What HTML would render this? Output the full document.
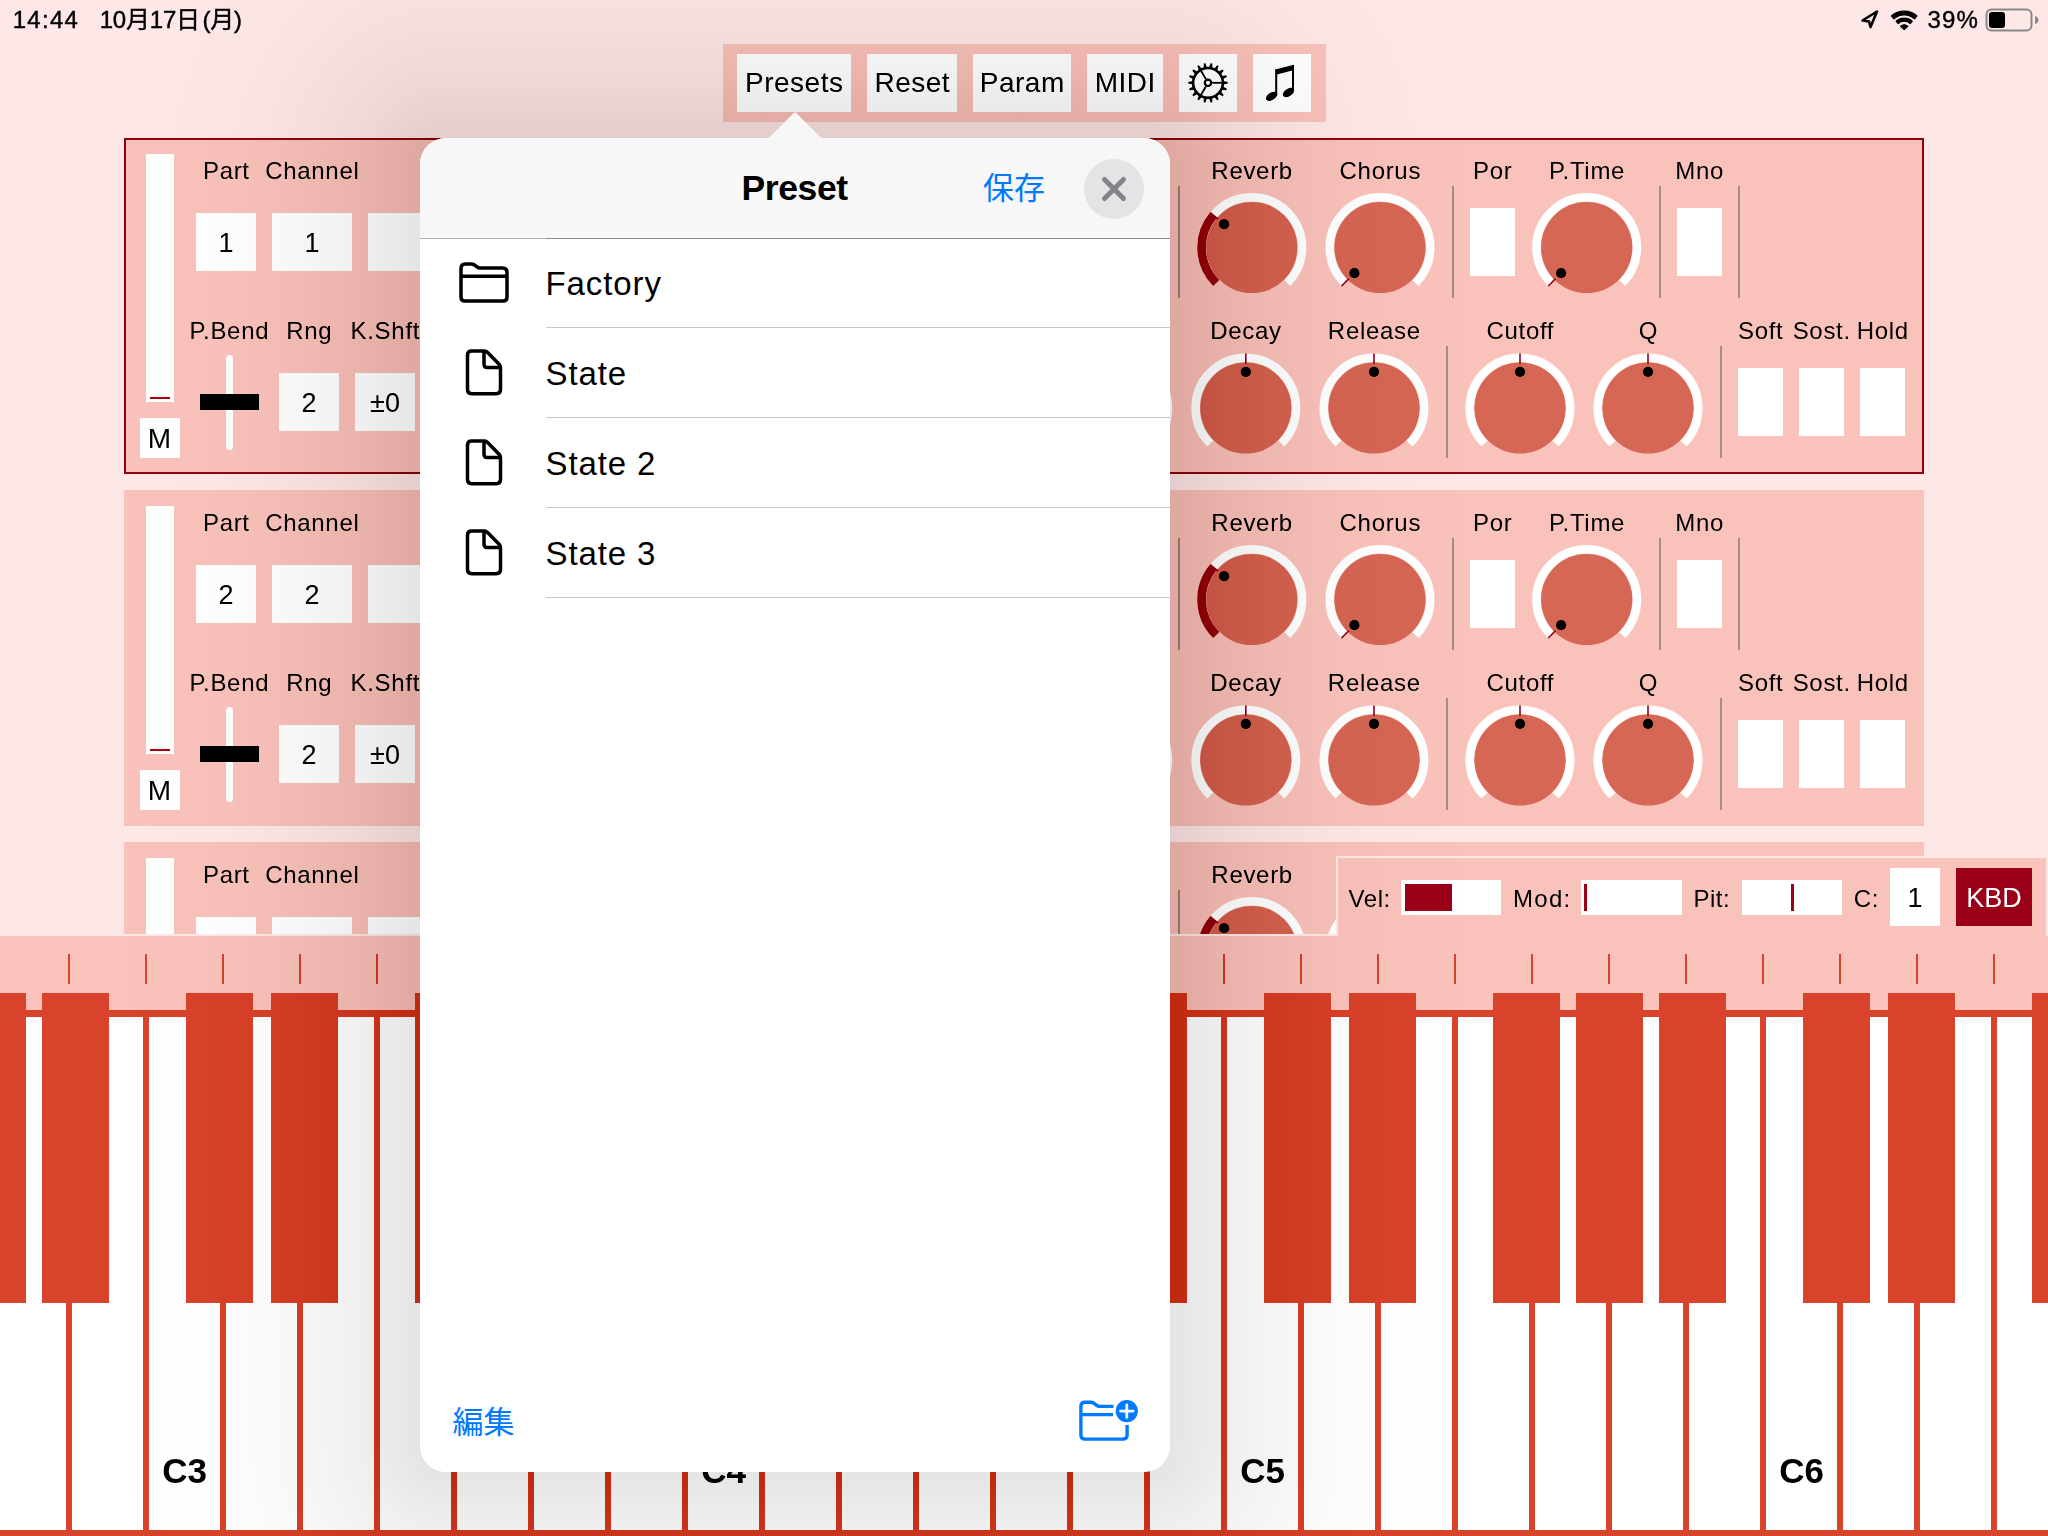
<!DOCTYPE html><html><head><meta charset="utf-8"><title>Preset</title><style>
html,body{margin:0;padding:0;width:2048px;height:1536px;overflow:hidden;background:#fde8e7;font-family:"Liberation Sans", "Noto Sans CJK JP", sans-serif;}
*{box-sizing:border-box;}
</style></head><body>
<div style="position:absolute;left:0;top:0;width:2048px;height:1536px;filter:invert(1);isolation:isolate;">
<div style="position:absolute;left:0;top:0;width:2048px;height:1536px;filter:invert(1);background:#fde8e7;">
<div style="position:absolute;left:0;top:0;width:2048px;height:934px;overflow:hidden;">
<div style="position:absolute;left:124px;top:138px;width:1800px;height:336px;background:#f9c3bc;box-sizing:border-box;border:2px solid #940010;"></div><div style="position:absolute;left:146px;top:154px;width:28px;height:248px;background:#fff;"></div><div style="position:absolute;left:150px;top:397px;width:20px;height:2px;background:#a00018;"></div><div style="position:absolute;left:140px;top:418px;width:40px;height:40px;background:#fff;"></div><div style="position:absolute;left:-140.5px;top:448px;width:600px;height:0;text-align:center;font-size:28px;color:#000;font-weight:normal;"><span style="position:relative;top:-25.34px;line-height:1;white-space:nowrap">M</span></div><div style="position:absolute;left:-74px;top:179px;width:600px;height:0;text-align:center;text-indent:0.7px;font-size:24px;color:#000;font-weight:normal;letter-spacing:0.7px;"><span style="position:relative;top:-21.72px;line-height:1;white-space:nowrap">Part</span></div><div style="position:absolute;left:12px;top:179px;width:600px;height:0;text-align:center;text-indent:0.7px;font-size:24px;color:#000;font-weight:normal;letter-spacing:0.7px;"><span style="position:relative;top:-21.72px;line-height:1;white-space:nowrap">Channel</span></div><div style="position:absolute;left:196px;top:213px;width:60px;height:58px;background:#fff;"></div><div style="position:absolute;left:-74px;top:252px;width:600px;height:0;text-align:center;font-size:27px;color:#000;font-weight:normal;"><span style="position:relative;top:-24.44px;line-height:1;white-space:nowrap">1</span></div><div style="position:absolute;left:272px;top:213px;width:80px;height:58px;background:#fff;"></div><div style="position:absolute;left:12px;top:252px;width:600px;height:0;text-align:center;font-size:27px;color:#000;font-weight:normal;"><span style="position:relative;top:-24.44px;line-height:1;white-space:nowrap">1</span></div><div style="position:absolute;left:368px;top:213px;width:80px;height:58px;background:#fff;"></div><div style="position:absolute;left:-71px;top:338.5px;width:600px;height:0;text-align:center;text-indent:0.7px;font-size:24px;color:#000;font-weight:normal;letter-spacing:0.7px;"><span style="position:relative;top:-21.72px;line-height:1;white-space:nowrap">P.Bend</span></div><div style="position:absolute;left:9px;top:338.5px;width:600px;height:0;text-align:center;text-indent:0.7px;font-size:24px;color:#000;font-weight:normal;letter-spacing:0.7px;"><span style="position:relative;top:-21.72px;line-height:1;white-space:nowrap">Rng</span></div><div style="position:absolute;left:85px;top:338.5px;width:600px;height:0;text-align:center;text-indent:0.7px;font-size:24px;color:#000;font-weight:normal;letter-spacing:0.7px;"><span style="position:relative;top:-21.72px;line-height:1;white-space:nowrap">K.Shft</span></div><div style="position:absolute;left:225.6px;top:354.5px;width:7.7px;height:95.3px;background:#fff;border-radius:4px;"></div><div style="position:absolute;left:200px;top:394px;width:59px;height:16px;background:#000;"></div><div style="position:absolute;left:279px;top:373px;width:60px;height:58px;background:#fff;"></div><div style="position:absolute;left:9px;top:412px;width:600px;height:0;text-align:center;font-size:27px;color:#000;font-weight:normal;"><span style="position:relative;top:-24.44px;line-height:1;white-space:nowrap">2</span></div><div style="position:absolute;left:355px;top:373px;width:60px;height:58px;background:#fff;"></div><div style="position:absolute;left:85px;top:412px;width:600px;height:0;text-align:center;font-size:27px;color:#000;font-weight:normal;"><span style="position:relative;top:-24.44px;line-height:1;white-space:nowrap">&plusmn;0</span></div><div style="position:absolute;left:951.8px;top:178.5px;width:600px;height:0;text-align:center;text-indent:0.7px;font-size:24px;color:#000;font-weight:normal;letter-spacing:0.7px;"><span style="position:relative;top:-21.72px;line-height:1;white-space:nowrap">Reverb</span></div><div style="position:absolute;left:1080px;top:178.5px;width:600px;height:0;text-align:center;text-indent:0.7px;font-size:24px;color:#000;font-weight:normal;letter-spacing:0.7px;"><span style="position:relative;top:-21.72px;line-height:1;white-space:nowrap">Chorus</span></div><div style="position:absolute;left:1192.5px;top:178.5px;width:600px;height:0;text-align:center;text-indent:0.7px;font-size:24px;color:#000;font-weight:normal;letter-spacing:0.7px;"><span style="position:relative;top:-21.72px;line-height:1;white-space:nowrap">Por</span></div><div style="position:absolute;left:1286.7px;top:178.5px;width:600px;height:0;text-align:center;text-indent:0.7px;font-size:24px;color:#000;font-weight:normal;letter-spacing:0.7px;"><span style="position:relative;top:-21.72px;line-height:1;white-space:nowrap">P.Time</span></div><div style="position:absolute;left:1399.4px;top:178.5px;width:600px;height:0;text-align:center;text-indent:0.7px;font-size:24px;color:#000;font-weight:normal;letter-spacing:0.7px;"><span style="position:relative;top:-21.72px;line-height:1;white-space:nowrap">Mno</span></div><div style="position:absolute;left:945.5999999999999px;top:338.5px;width:600px;height:0;text-align:center;text-indent:0.7px;font-size:24px;color:#000;font-weight:normal;letter-spacing:0.7px;"><span style="position:relative;top:-21.72px;line-height:1;white-space:nowrap">Decay</span></div><div style="position:absolute;left:1074px;top:338.5px;width:600px;height:0;text-align:center;text-indent:0.7px;font-size:24px;color:#000;font-weight:normal;letter-spacing:0.7px;"><span style="position:relative;top:-21.72px;line-height:1;white-space:nowrap">Release</span></div><div style="position:absolute;left:1220px;top:338.5px;width:600px;height:0;text-align:center;text-indent:0.7px;font-size:24px;color:#000;font-weight:normal;letter-spacing:0.7px;"><span style="position:relative;top:-21.72px;line-height:1;white-space:nowrap">Cutoff</span></div><div style="position:absolute;left:1348px;top:338.5px;width:600px;height:0;text-align:center;text-indent:0.7px;font-size:24px;color:#000;font-weight:normal;letter-spacing:0.7px;"><span style="position:relative;top:-21.72px;line-height:1;white-space:nowrap">Q</span></div><div style="position:absolute;left:1460.4px;top:338.5px;width:600px;height:0;text-align:center;text-indent:0.7px;font-size:24px;color:#000;font-weight:normal;letter-spacing:0.7px;"><span style="position:relative;top:-21.72px;line-height:1;white-space:nowrap">Soft</span></div><div style="position:absolute;left:1521.4px;top:338.5px;width:600px;height:0;text-align:center;text-indent:0.7px;font-size:24px;color:#000;font-weight:normal;letter-spacing:0.7px;"><span style="position:relative;top:-21.72px;line-height:1;white-space:nowrap">Sost.</span></div><div style="position:absolute;left:1582.4px;top:338.5px;width:600px;height:0;text-align:center;text-indent:0.7px;font-size:24px;color:#000;font-weight:normal;letter-spacing:0.7px;"><span style="position:relative;top:-21.72px;line-height:1;white-space:nowrap">Hold</span></div><div style="position:absolute;left:1178px;top:186px;width:2px;height:112px;background:#a88a86;"></div><div style="position:absolute;left:1452px;top:186px;width:2px;height:112px;background:#a88a86;"></div><div style="position:absolute;left:1659px;top:186px;width:2px;height:112px;background:#a88a86;"></div><div style="position:absolute;left:1738px;top:186px;width:2px;height:112px;background:#a88a86;"></div><div style="position:absolute;left:1446px;top:346px;width:2px;height:112px;background:#a88a86;"></div><div style="position:absolute;left:1720px;top:346px;width:2px;height:112px;background:#a88a86;"></div><div style="position:absolute;left:1470px;top:208px;width:45px;height:68px;background:#fff;"></div><div style="position:absolute;left:1677px;top:208px;width:45px;height:68px;background:#fff;"></div><div style="position:absolute;left:1738px;top:368px;width:45px;height:68px;background:#fff;"></div><div style="position:absolute;left:1799px;top:368px;width:45px;height:68px;background:#fff;"></div><div style="position:absolute;left:1860px;top:368px;width:45px;height:68px;background:#fff;"></div>
<svg style="position:absolute;left:0;top:0" width="2048" height="1536" viewBox="0 0 2048 1536"><path d="M1216.30,283.00 A50.2,50.2 0 1 1 1287.30,283.00" fill="none" stroke="#fff" stroke-width="8.6"/><path d="M1216.30,283.00 A50.2,50.2 0 0 1 1213.34,215.23" fill="none" stroke="#9a0018" stroke-width="8.6"/><circle cx="1251.8" cy="247.5" r="45.6" fill="#d66755"/><line x1="1218.09" y1="219.22" x2="1210.13" y2="212.53" stroke="#9a0018" stroke-width="1.6"/><circle cx="1224.07" cy="224.23" r="5.1" fill="#000"/><path d="M1344.50,283.00 A50.2,50.2 0 1 1 1415.50,283.00" fill="none" stroke="#fff" stroke-width="8.6"/><circle cx="1380" cy="247.5" r="45.6" fill="#d66755"/><line x1="1348.89" y1="278.61" x2="1341.53" y2="285.97" stroke="#9a0018" stroke-width="1.6"/><circle cx="1354.40" cy="273.10" r="5.1" fill="#000"/><path d="M1551.20,283.00 A50.2,50.2 0 1 1 1622.20,283.00" fill="none" stroke="#fff" stroke-width="8.6"/><circle cx="1586.7" cy="247.5" r="45.6" fill="#d66755"/><line x1="1555.59" y1="278.61" x2="1548.23" y2="285.97" stroke="#9a0018" stroke-width="1.6"/><circle cx="1561.10" cy="273.10" r="5.1" fill="#000"/><path d="M1082.30,443.50 A50.2,50.2 0 1 1 1153.30,443.50" fill="none" stroke="#fff" stroke-width="8.6"/><circle cx="1117.8" cy="408" r="45.6" fill="#d66755"/><line x1="1117.80" y1="364.00" x2="1117.80" y2="353.60" stroke="#9a0018" stroke-width="1.6"/><circle cx="1117.80" cy="371.80" r="5.1" fill="#000"/><path d="M1210.30,443.50 A50.2,50.2 0 1 1 1281.30,443.50" fill="none" stroke="#fff" stroke-width="8.6"/><circle cx="1245.8" cy="408" r="45.6" fill="#d66755"/><line x1="1245.80" y1="364.00" x2="1245.80" y2="353.60" stroke="#9a0018" stroke-width="1.6"/><circle cx="1245.80" cy="371.80" r="5.1" fill="#000"/><path d="M1338.50,443.50 A50.2,50.2 0 1 1 1409.50,443.50" fill="none" stroke="#fff" stroke-width="8.6"/><circle cx="1374" cy="408" r="45.6" fill="#d66755"/><line x1="1374.00" y1="364.00" x2="1374.00" y2="353.60" stroke="#9a0018" stroke-width="1.6"/><circle cx="1374.00" cy="371.80" r="5.1" fill="#000"/><path d="M1484.50,443.50 A50.2,50.2 0 1 1 1555.50,443.50" fill="none" stroke="#fff" stroke-width="8.6"/><circle cx="1520" cy="408" r="45.6" fill="#d66755"/><line x1="1520.00" y1="364.00" x2="1520.00" y2="353.60" stroke="#9a0018" stroke-width="1.6"/><circle cx="1520.00" cy="371.80" r="5.1" fill="#000"/><path d="M1612.50,443.50 A50.2,50.2 0 1 1 1683.50,443.50" fill="none" stroke="#fff" stroke-width="8.6"/><circle cx="1648" cy="408" r="45.6" fill="#d66755"/><line x1="1648.00" y1="364.00" x2="1648.00" y2="353.60" stroke="#9a0018" stroke-width="1.6"/><circle cx="1648.00" cy="371.80" r="5.1" fill="#000"/></svg>
<div style="position:absolute;left:124px;top:490px;width:1800px;height:336px;background:#f9c3bc;box-sizing:border-box;"></div><div style="position:absolute;left:146px;top:506px;width:28px;height:248px;background:#fff;"></div><div style="position:absolute;left:150px;top:749px;width:20px;height:2px;background:#a00018;"></div><div style="position:absolute;left:140px;top:770px;width:40px;height:40px;background:#fff;"></div><div style="position:absolute;left:-140.5px;top:800px;width:600px;height:0;text-align:center;font-size:28px;color:#000;font-weight:normal;"><span style="position:relative;top:-25.34px;line-height:1;white-space:nowrap">M</span></div><div style="position:absolute;left:-74px;top:531px;width:600px;height:0;text-align:center;text-indent:0.7px;font-size:24px;color:#000;font-weight:normal;letter-spacing:0.7px;"><span style="position:relative;top:-21.72px;line-height:1;white-space:nowrap">Part</span></div><div style="position:absolute;left:12px;top:531px;width:600px;height:0;text-align:center;text-indent:0.7px;font-size:24px;color:#000;font-weight:normal;letter-spacing:0.7px;"><span style="position:relative;top:-21.72px;line-height:1;white-space:nowrap">Channel</span></div><div style="position:absolute;left:196px;top:565px;width:60px;height:58px;background:#fff;"></div><div style="position:absolute;left:-74px;top:604px;width:600px;height:0;text-align:center;font-size:27px;color:#000;font-weight:normal;"><span style="position:relative;top:-24.44px;line-height:1;white-space:nowrap">2</span></div><div style="position:absolute;left:272px;top:565px;width:80px;height:58px;background:#fff;"></div><div style="position:absolute;left:12px;top:604px;width:600px;height:0;text-align:center;font-size:27px;color:#000;font-weight:normal;"><span style="position:relative;top:-24.44px;line-height:1;white-space:nowrap">2</span></div><div style="position:absolute;left:368px;top:565px;width:80px;height:58px;background:#fff;"></div><div style="position:absolute;left:-71px;top:690.5px;width:600px;height:0;text-align:center;text-indent:0.7px;font-size:24px;color:#000;font-weight:normal;letter-spacing:0.7px;"><span style="position:relative;top:-21.72px;line-height:1;white-space:nowrap">P.Bend</span></div><div style="position:absolute;left:9px;top:690.5px;width:600px;height:0;text-align:center;text-indent:0.7px;font-size:24px;color:#000;font-weight:normal;letter-spacing:0.7px;"><span style="position:relative;top:-21.72px;line-height:1;white-space:nowrap">Rng</span></div><div style="position:absolute;left:85px;top:690.5px;width:600px;height:0;text-align:center;text-indent:0.7px;font-size:24px;color:#000;font-weight:normal;letter-spacing:0.7px;"><span style="position:relative;top:-21.72px;line-height:1;white-space:nowrap">K.Shft</span></div><div style="position:absolute;left:225.6px;top:706.5px;width:7.7px;height:95.3px;background:#fff;border-radius:4px;"></div><div style="position:absolute;left:200px;top:746px;width:59px;height:16px;background:#000;"></div><div style="position:absolute;left:279px;top:725px;width:60px;height:58px;background:#fff;"></div><div style="position:absolute;left:9px;top:764px;width:600px;height:0;text-align:center;font-size:27px;color:#000;font-weight:normal;"><span style="position:relative;top:-24.44px;line-height:1;white-space:nowrap">2</span></div><div style="position:absolute;left:355px;top:725px;width:60px;height:58px;background:#fff;"></div><div style="position:absolute;left:85px;top:764px;width:600px;height:0;text-align:center;font-size:27px;color:#000;font-weight:normal;"><span style="position:relative;top:-24.44px;line-height:1;white-space:nowrap">&plusmn;0</span></div><div style="position:absolute;left:951.8px;top:530.5px;width:600px;height:0;text-align:center;text-indent:0.7px;font-size:24px;color:#000;font-weight:normal;letter-spacing:0.7px;"><span style="position:relative;top:-21.72px;line-height:1;white-space:nowrap">Reverb</span></div><div style="position:absolute;left:1080px;top:530.5px;width:600px;height:0;text-align:center;text-indent:0.7px;font-size:24px;color:#000;font-weight:normal;letter-spacing:0.7px;"><span style="position:relative;top:-21.72px;line-height:1;white-space:nowrap">Chorus</span></div><div style="position:absolute;left:1192.5px;top:530.5px;width:600px;height:0;text-align:center;text-indent:0.7px;font-size:24px;color:#000;font-weight:normal;letter-spacing:0.7px;"><span style="position:relative;top:-21.72px;line-height:1;white-space:nowrap">Por</span></div><div style="position:absolute;left:1286.7px;top:530.5px;width:600px;height:0;text-align:center;text-indent:0.7px;font-size:24px;color:#000;font-weight:normal;letter-spacing:0.7px;"><span style="position:relative;top:-21.72px;line-height:1;white-space:nowrap">P.Time</span></div><div style="position:absolute;left:1399.4px;top:530.5px;width:600px;height:0;text-align:center;text-indent:0.7px;font-size:24px;color:#000;font-weight:normal;letter-spacing:0.7px;"><span style="position:relative;top:-21.72px;line-height:1;white-space:nowrap">Mno</span></div><div style="position:absolute;left:945.5999999999999px;top:690.5px;width:600px;height:0;text-align:center;text-indent:0.7px;font-size:24px;color:#000;font-weight:normal;letter-spacing:0.7px;"><span style="position:relative;top:-21.72px;line-height:1;white-space:nowrap">Decay</span></div><div style="position:absolute;left:1074px;top:690.5px;width:600px;height:0;text-align:center;text-indent:0.7px;font-size:24px;color:#000;font-weight:normal;letter-spacing:0.7px;"><span style="position:relative;top:-21.72px;line-height:1;white-space:nowrap">Release</span></div><div style="position:absolute;left:1220px;top:690.5px;width:600px;height:0;text-align:center;text-indent:0.7px;font-size:24px;color:#000;font-weight:normal;letter-spacing:0.7px;"><span style="position:relative;top:-21.72px;line-height:1;white-space:nowrap">Cutoff</span></div><div style="position:absolute;left:1348px;top:690.5px;width:600px;height:0;text-align:center;text-indent:0.7px;font-size:24px;color:#000;font-weight:normal;letter-spacing:0.7px;"><span style="position:relative;top:-21.72px;line-height:1;white-space:nowrap">Q</span></div><div style="position:absolute;left:1460.4px;top:690.5px;width:600px;height:0;text-align:center;text-indent:0.7px;font-size:24px;color:#000;font-weight:normal;letter-spacing:0.7px;"><span style="position:relative;top:-21.72px;line-height:1;white-space:nowrap">Soft</span></div><div style="position:absolute;left:1521.4px;top:690.5px;width:600px;height:0;text-align:center;text-indent:0.7px;font-size:24px;color:#000;font-weight:normal;letter-spacing:0.7px;"><span style="position:relative;top:-21.72px;line-height:1;white-space:nowrap">Sost.</span></div><div style="position:absolute;left:1582.4px;top:690.5px;width:600px;height:0;text-align:center;text-indent:0.7px;font-size:24px;color:#000;font-weight:normal;letter-spacing:0.7px;"><span style="position:relative;top:-21.72px;line-height:1;white-space:nowrap">Hold</span></div><div style="position:absolute;left:1178px;top:538px;width:2px;height:112px;background:#a88a86;"></div><div style="position:absolute;left:1452px;top:538px;width:2px;height:112px;background:#a88a86;"></div><div style="position:absolute;left:1659px;top:538px;width:2px;height:112px;background:#a88a86;"></div><div style="position:absolute;left:1738px;top:538px;width:2px;height:112px;background:#a88a86;"></div><div style="position:absolute;left:1446px;top:698px;width:2px;height:112px;background:#a88a86;"></div><div style="position:absolute;left:1720px;top:698px;width:2px;height:112px;background:#a88a86;"></div><div style="position:absolute;left:1470px;top:560px;width:45px;height:68px;background:#fff;"></div><div style="position:absolute;left:1677px;top:560px;width:45px;height:68px;background:#fff;"></div><div style="position:absolute;left:1738px;top:720px;width:45px;height:68px;background:#fff;"></div><div style="position:absolute;left:1799px;top:720px;width:45px;height:68px;background:#fff;"></div><div style="position:absolute;left:1860px;top:720px;width:45px;height:68px;background:#fff;"></div>
<svg style="position:absolute;left:0;top:0" width="2048" height="1536" viewBox="0 0 2048 1536"><path d="M1216.30,635.00 A50.2,50.2 0 1 1 1287.30,635.00" fill="none" stroke="#fff" stroke-width="8.6"/><path d="M1216.30,635.00 A50.2,50.2 0 0 1 1213.34,567.23" fill="none" stroke="#9a0018" stroke-width="8.6"/><circle cx="1251.8" cy="599.5" r="45.6" fill="#d66755"/><line x1="1218.09" y1="571.22" x2="1210.13" y2="564.53" stroke="#9a0018" stroke-width="1.6"/><circle cx="1224.07" cy="576.23" r="5.1" fill="#000"/><path d="M1344.50,635.00 A50.2,50.2 0 1 1 1415.50,635.00" fill="none" stroke="#fff" stroke-width="8.6"/><circle cx="1380" cy="599.5" r="45.6" fill="#d66755"/><line x1="1348.89" y1="630.61" x2="1341.53" y2="637.97" stroke="#9a0018" stroke-width="1.6"/><circle cx="1354.40" cy="625.10" r="5.1" fill="#000"/><path d="M1551.20,635.00 A50.2,50.2 0 1 1 1622.20,635.00" fill="none" stroke="#fff" stroke-width="8.6"/><circle cx="1586.7" cy="599.5" r="45.6" fill="#d66755"/><line x1="1555.59" y1="630.61" x2="1548.23" y2="637.97" stroke="#9a0018" stroke-width="1.6"/><circle cx="1561.10" cy="625.10" r="5.1" fill="#000"/><path d="M1082.30,795.50 A50.2,50.2 0 1 1 1153.30,795.50" fill="none" stroke="#fff" stroke-width="8.6"/><circle cx="1117.8" cy="760" r="45.6" fill="#d66755"/><line x1="1117.80" y1="716.00" x2="1117.80" y2="705.60" stroke="#9a0018" stroke-width="1.6"/><circle cx="1117.80" cy="723.80" r="5.1" fill="#000"/><path d="M1210.30,795.50 A50.2,50.2 0 1 1 1281.30,795.50" fill="none" stroke="#fff" stroke-width="8.6"/><circle cx="1245.8" cy="760" r="45.6" fill="#d66755"/><line x1="1245.80" y1="716.00" x2="1245.80" y2="705.60" stroke="#9a0018" stroke-width="1.6"/><circle cx="1245.80" cy="723.80" r="5.1" fill="#000"/><path d="M1338.50,795.50 A50.2,50.2 0 1 1 1409.50,795.50" fill="none" stroke="#fff" stroke-width="8.6"/><circle cx="1374" cy="760" r="45.6" fill="#d66755"/><line x1="1374.00" y1="716.00" x2="1374.00" y2="705.60" stroke="#9a0018" stroke-width="1.6"/><circle cx="1374.00" cy="723.80" r="5.1" fill="#000"/><path d="M1484.50,795.50 A50.2,50.2 0 1 1 1555.50,795.50" fill="none" stroke="#fff" stroke-width="8.6"/><circle cx="1520" cy="760" r="45.6" fill="#d66755"/><line x1="1520.00" y1="716.00" x2="1520.00" y2="705.60" stroke="#9a0018" stroke-width="1.6"/><circle cx="1520.00" cy="723.80" r="5.1" fill="#000"/><path d="M1612.50,795.50 A50.2,50.2 0 1 1 1683.50,795.50" fill="none" stroke="#fff" stroke-width="8.6"/><circle cx="1648" cy="760" r="45.6" fill="#d66755"/><line x1="1648.00" y1="716.00" x2="1648.00" y2="705.60" stroke="#9a0018" stroke-width="1.6"/><circle cx="1648.00" cy="723.80" r="5.1" fill="#000"/></svg>
<div style="position:absolute;left:124px;top:842px;width:1800px;height:336px;background:#f9c3bc;box-sizing:border-box;"></div><div style="position:absolute;left:146px;top:858px;width:28px;height:248px;background:#fff;"></div><div style="position:absolute;left:150px;top:1101px;width:20px;height:2px;background:#a00018;"></div><div style="position:absolute;left:140px;top:1122px;width:40px;height:40px;background:#fff;"></div><div style="position:absolute;left:-140.5px;top:1152px;width:600px;height:0;text-align:center;font-size:28px;color:#000;font-weight:normal;"><span style="position:relative;top:-25.34px;line-height:1;white-space:nowrap">M</span></div><div style="position:absolute;left:-74px;top:883px;width:600px;height:0;text-align:center;text-indent:0.7px;font-size:24px;color:#000;font-weight:normal;letter-spacing:0.7px;"><span style="position:relative;top:-21.72px;line-height:1;white-space:nowrap">Part</span></div><div style="position:absolute;left:12px;top:883px;width:600px;height:0;text-align:center;text-indent:0.7px;font-size:24px;color:#000;font-weight:normal;letter-spacing:0.7px;"><span style="position:relative;top:-21.72px;line-height:1;white-space:nowrap">Channel</span></div><div style="position:absolute;left:196px;top:917px;width:60px;height:58px;background:#fff;"></div><div style="position:absolute;left:-74px;top:956px;width:600px;height:0;text-align:center;font-size:27px;color:#000;font-weight:normal;"><span style="position:relative;top:-24.44px;line-height:1;white-space:nowrap">3</span></div><div style="position:absolute;left:272px;top:917px;width:80px;height:58px;background:#fff;"></div><div style="position:absolute;left:12px;top:956px;width:600px;height:0;text-align:center;font-size:27px;color:#000;font-weight:normal;"><span style="position:relative;top:-24.44px;line-height:1;white-space:nowrap">3</span></div><div style="position:absolute;left:368px;top:917px;width:80px;height:58px;background:#fff;"></div><div style="position:absolute;left:-71px;top:1042.5px;width:600px;height:0;text-align:center;text-indent:0.7px;font-size:24px;color:#000;font-weight:normal;letter-spacing:0.7px;"><span style="position:relative;top:-21.72px;line-height:1;white-space:nowrap">P.Bend</span></div><div style="position:absolute;left:9px;top:1042.5px;width:600px;height:0;text-align:center;text-indent:0.7px;font-size:24px;color:#000;font-weight:normal;letter-spacing:0.7px;"><span style="position:relative;top:-21.72px;line-height:1;white-space:nowrap">Rng</span></div><div style="position:absolute;left:85px;top:1042.5px;width:600px;height:0;text-align:center;text-indent:0.7px;font-size:24px;color:#000;font-weight:normal;letter-spacing:0.7px;"><span style="position:relative;top:-21.72px;line-height:1;white-space:nowrap">K.Shft</span></div><div style="position:absolute;left:225.6px;top:1058.5px;width:7.7px;height:95.3px;background:#fff;border-radius:4px;"></div><div style="position:absolute;left:200px;top:1098px;width:59px;height:16px;background:#000;"></div><div style="position:absolute;left:279px;top:1077px;width:60px;height:58px;background:#fff;"></div><div style="position:absolute;left:9px;top:1116px;width:600px;height:0;text-align:center;font-size:27px;color:#000;font-weight:normal;"><span style="position:relative;top:-24.44px;line-height:1;white-space:nowrap">2</span></div><div style="position:absolute;left:355px;top:1077px;width:60px;height:58px;background:#fff;"></div><div style="position:absolute;left:85px;top:1116px;width:600px;height:0;text-align:center;font-size:27px;color:#000;font-weight:normal;"><span style="position:relative;top:-24.44px;line-height:1;white-space:nowrap">&plusmn;0</span></div><div style="position:absolute;left:951.8px;top:882.5px;width:600px;height:0;text-align:center;text-indent:0.7px;font-size:24px;color:#000;font-weight:normal;letter-spacing:0.7px;"><span style="position:relative;top:-21.72px;line-height:1;white-space:nowrap">Reverb</span></div><div style="position:absolute;left:1080px;top:882.5px;width:600px;height:0;text-align:center;text-indent:0.7px;font-size:24px;color:#000;font-weight:normal;letter-spacing:0.7px;"><span style="position:relative;top:-21.72px;line-height:1;white-space:nowrap">Chorus</span></div><div style="position:absolute;left:1192.5px;top:882.5px;width:600px;height:0;text-align:center;text-indent:0.7px;font-size:24px;color:#000;font-weight:normal;letter-spacing:0.7px;"><span style="position:relative;top:-21.72px;line-height:1;white-space:nowrap">Por</span></div><div style="position:absolute;left:1286.7px;top:882.5px;width:600px;height:0;text-align:center;text-indent:0.7px;font-size:24px;color:#000;font-weight:normal;letter-spacing:0.7px;"><span style="position:relative;top:-21.72px;line-height:1;white-space:nowrap">P.Time</span></div><div style="position:absolute;left:1399.4px;top:882.5px;width:600px;height:0;text-align:center;text-indent:0.7px;font-size:24px;color:#000;font-weight:normal;letter-spacing:0.7px;"><span style="position:relative;top:-21.72px;line-height:1;white-space:nowrap">Mno</span></div><div style="position:absolute;left:945.5999999999999px;top:1042.5px;width:600px;height:0;text-align:center;text-indent:0.7px;font-size:24px;color:#000;font-weight:normal;letter-spacing:0.7px;"><span style="position:relative;top:-21.72px;line-height:1;white-space:nowrap">Decay</span></div><div style="position:absolute;left:1074px;top:1042.5px;width:600px;height:0;text-align:center;text-indent:0.7px;font-size:24px;color:#000;font-weight:normal;letter-spacing:0.7px;"><span style="position:relative;top:-21.72px;line-height:1;white-space:nowrap">Release</span></div><div style="position:absolute;left:1220px;top:1042.5px;width:600px;height:0;text-align:center;text-indent:0.7px;font-size:24px;color:#000;font-weight:normal;letter-spacing:0.7px;"><span style="position:relative;top:-21.72px;line-height:1;white-space:nowrap">Cutoff</span></div><div style="position:absolute;left:1348px;top:1042.5px;width:600px;height:0;text-align:center;text-indent:0.7px;font-size:24px;color:#000;font-weight:normal;letter-spacing:0.7px;"><span style="position:relative;top:-21.72px;line-height:1;white-space:nowrap">Q</span></div><div style="position:absolute;left:1460.4px;top:1042.5px;width:600px;height:0;text-align:center;text-indent:0.7px;font-size:24px;color:#000;font-weight:normal;letter-spacing:0.7px;"><span style="position:relative;top:-21.72px;line-height:1;white-space:nowrap">Soft</span></div><div style="position:absolute;left:1521.4px;top:1042.5px;width:600px;height:0;text-align:center;text-indent:0.7px;font-size:24px;color:#000;font-weight:normal;letter-spacing:0.7px;"><span style="position:relative;top:-21.72px;line-height:1;white-space:nowrap">Sost.</span></div><div style="position:absolute;left:1582.4px;top:1042.5px;width:600px;height:0;text-align:center;text-indent:0.7px;font-size:24px;color:#000;font-weight:normal;letter-spacing:0.7px;"><span style="position:relative;top:-21.72px;line-height:1;white-space:nowrap">Hold</span></div><div style="position:absolute;left:1178px;top:890px;width:2px;height:112px;background:#a88a86;"></div><div style="position:absolute;left:1452px;top:890px;width:2px;height:112px;background:#a88a86;"></div><div style="position:absolute;left:1659px;top:890px;width:2px;height:112px;background:#a88a86;"></div><div style="position:absolute;left:1738px;top:890px;width:2px;height:112px;background:#a88a86;"></div><div style="position:absolute;left:1446px;top:1050px;width:2px;height:112px;background:#a88a86;"></div><div style="position:absolute;left:1720px;top:1050px;width:2px;height:112px;background:#a88a86;"></div><div style="position:absolute;left:1470px;top:912px;width:45px;height:68px;background:#fff;"></div><div style="position:absolute;left:1677px;top:912px;width:45px;height:68px;background:#fff;"></div><div style="position:absolute;left:1738px;top:1072px;width:45px;height:68px;background:#fff;"></div><div style="position:absolute;left:1799px;top:1072px;width:45px;height:68px;background:#fff;"></div><div style="position:absolute;left:1860px;top:1072px;width:45px;height:68px;background:#fff;"></div>
<svg style="position:absolute;left:0;top:0" width="2048" height="1536" viewBox="0 0 2048 1536"><path d="M1216.30,987.00 A50.2,50.2 0 1 1 1287.30,987.00" fill="none" stroke="#fff" stroke-width="8.6"/><path d="M1216.30,987.00 A50.2,50.2 0 0 1 1213.34,919.23" fill="none" stroke="#9a0018" stroke-width="8.6"/><circle cx="1251.8" cy="951.5" r="45.6" fill="#d66755"/><line x1="1218.09" y1="923.22" x2="1210.13" y2="916.53" stroke="#9a0018" stroke-width="1.6"/><circle cx="1224.07" cy="928.23" r="5.1" fill="#000"/><path d="M1344.50,987.00 A50.2,50.2 0 1 1 1415.50,987.00" fill="none" stroke="#fff" stroke-width="8.6"/><circle cx="1380" cy="951.5" r="45.6" fill="#d66755"/><line x1="1348.89" y1="982.61" x2="1341.53" y2="989.97" stroke="#9a0018" stroke-width="1.6"/><circle cx="1354.40" cy="977.10" r="5.1" fill="#000"/><path d="M1551.20,987.00 A50.2,50.2 0 1 1 1622.20,987.00" fill="none" stroke="#fff" stroke-width="8.6"/><circle cx="1586.7" cy="951.5" r="45.6" fill="#d66755"/><line x1="1555.59" y1="982.61" x2="1548.23" y2="989.97" stroke="#9a0018" stroke-width="1.6"/><circle cx="1561.10" cy="977.10" r="5.1" fill="#000"/><path d="M1082.30,1147.50 A50.2,50.2 0 1 1 1153.30,1147.50" fill="none" stroke="#fff" stroke-width="8.6"/><circle cx="1117.8" cy="1112" r="45.6" fill="#d66755"/><line x1="1117.80" y1="1068.00" x2="1117.80" y2="1057.60" stroke="#9a0018" stroke-width="1.6"/><circle cx="1117.80" cy="1075.80" r="5.1" fill="#000"/><path d="M1210.30,1147.50 A50.2,50.2 0 1 1 1281.30,1147.50" fill="none" stroke="#fff" stroke-width="8.6"/><circle cx="1245.8" cy="1112" r="45.6" fill="#d66755"/><line x1="1245.80" y1="1068.00" x2="1245.80" y2="1057.60" stroke="#9a0018" stroke-width="1.6"/><circle cx="1245.80" cy="1075.80" r="5.1" fill="#000"/><path d="M1338.50,1147.50 A50.2,50.2 0 1 1 1409.50,1147.50" fill="none" stroke="#fff" stroke-width="8.6"/><circle cx="1374" cy="1112" r="45.6" fill="#d66755"/><line x1="1374.00" y1="1068.00" x2="1374.00" y2="1057.60" stroke="#9a0018" stroke-width="1.6"/><circle cx="1374.00" cy="1075.80" r="5.1" fill="#000"/><path d="M1484.50,1147.50 A50.2,50.2 0 1 1 1555.50,1147.50" fill="none" stroke="#fff" stroke-width="8.6"/><circle cx="1520" cy="1112" r="45.6" fill="#d66755"/><line x1="1520.00" y1="1068.00" x2="1520.00" y2="1057.60" stroke="#9a0018" stroke-width="1.6"/><circle cx="1520.00" cy="1075.80" r="5.1" fill="#000"/><path d="M1612.50,1147.50 A50.2,50.2 0 1 1 1683.50,1147.50" fill="none" stroke="#fff" stroke-width="8.6"/><circle cx="1648" cy="1112" r="45.6" fill="#d66755"/><line x1="1648.00" y1="1068.00" x2="1648.00" y2="1057.60" stroke="#9a0018" stroke-width="1.6"/><circle cx="1648.00" cy="1075.80" r="5.1" fill="#000"/></svg>
</div>
<div style="position:absolute;left:1336px;top:856px;width:712px;height:80px;background:#fde8e7;"></div>
<div style="position:absolute;left:1338px;top:858px;width:708px;height:78px;background:#f9c3bc;"></div>
<div style="position:absolute;left:1348.6px;top:906.7px;height:0;font-size:24px;color:#000;font-weight:normal;white-space:nowrap;letter-spacing:0.5px;"><span style="position:relative;top:-21.72px;line-height:1">Vel:</span></div>
<div style="position:absolute;left:1401px;top:880px;width:100px;height:35px;background:#fff;"></div>
<div style="position:absolute;left:1405px;top:884px;width:47px;height:26.5px;background:#9a0018;"></div>
<div style="position:absolute;left:1513px;top:906.7px;height:0;font-size:24px;color:#000;font-weight:normal;white-space:nowrap;letter-spacing:1.3px;"><span style="position:relative;top:-21.72px;line-height:1">Mod:</span></div>
<div style="position:absolute;left:1581px;top:880px;width:101px;height:35px;background:#fff;"></div>
<div style="position:absolute;left:1584px;top:884px;width:3px;height:26.5px;background:#9a0018;"></div>
<div style="position:absolute;left:1693.4px;top:906.7px;height:0;font-size:24px;color:#000;font-weight:normal;white-space:nowrap;letter-spacing:0.5px;"><span style="position:relative;top:-21.72px;line-height:1">Pit:</span></div>
<div style="position:absolute;left:1742px;top:880px;width:100px;height:35px;background:#fff;"></div>
<div style="position:absolute;left:1790.5px;top:884px;width:3px;height:26.5px;background:#9a0018;"></div>
<div style="position:absolute;left:1853.8px;top:906.7px;height:0;font-size:24px;color:#000;font-weight:normal;white-space:nowrap;letter-spacing:0.5px;"><span style="position:relative;top:-21.72px;line-height:1">C:</span></div>
<div style="position:absolute;left:1890px;top:868px;width:50px;height:58px;background:#fff;"></div>
<div style="position:absolute;left:1615px;top:907px;width:600px;height:0;text-align:center;font-size:27px;color:#000;font-weight:normal;"><span style="position:relative;top:-24.44px;line-height:1;white-space:nowrap">1</span></div>
<div style="position:absolute;left:1956px;top:868px;width:76px;height:58px;background:#9a0018;"></div>
<div style="position:absolute;left:1694px;top:907px;width:600px;height:0;text-align:center;font-size:27px;color:#fff;font-weight:normal;"><span style="position:relative;top:-24.44px;line-height:1;white-space:nowrap">KBD</span></div>
<div style="position:absolute;left:0px;top:934px;width:1336px;height:2px;background:#fde8e7;"></div>
<div style="position:absolute;left:0px;top:936px;width:2048px;height:600px;background:#f9c3bc;"></div>
<div style="position:absolute;left:0px;top:1010px;width:2048px;height:526px;background:#d9432b;"></div>
<div style="position:absolute;left:-5px;top:1017px;width:71px;height:513px;background:#fff;"></div>
<div style="position:absolute;left:72px;top:1017px;width:71px;height:513px;background:#fff;"></div>
<div style="position:absolute;left:149px;top:1017px;width:71px;height:513px;background:#fff;"></div>
<div style="position:absolute;left:226px;top:1017px;width:71px;height:513px;background:#fff;"></div>
<div style="position:absolute;left:303px;top:1017px;width:71px;height:513px;background:#fff;"></div>
<div style="position:absolute;left:380px;top:1017px;width:71px;height:513px;background:#fff;"></div>
<div style="position:absolute;left:457px;top:1017px;width:71px;height:513px;background:#fff;"></div>
<div style="position:absolute;left:534px;top:1017px;width:71px;height:513px;background:#fff;"></div>
<div style="position:absolute;left:611px;top:1017px;width:71px;height:513px;background:#fff;"></div>
<div style="position:absolute;left:688px;top:1017px;width:71px;height:513px;background:#fff;"></div>
<div style="position:absolute;left:765px;top:1017px;width:71px;height:513px;background:#fff;"></div>
<div style="position:absolute;left:842px;top:1017px;width:71px;height:513px;background:#fff;"></div>
<div style="position:absolute;left:919px;top:1017px;width:71px;height:513px;background:#fff;"></div>
<div style="position:absolute;left:996px;top:1017px;width:71px;height:513px;background:#fff;"></div>
<div style="position:absolute;left:1073px;top:1017px;width:71px;height:513px;background:#fff;"></div>
<div style="position:absolute;left:1150px;top:1017px;width:71px;height:513px;background:#fff;"></div>
<div style="position:absolute;left:1227px;top:1017px;width:71px;height:513px;background:#fff;"></div>
<div style="position:absolute;left:1304px;top:1017px;width:71px;height:513px;background:#fff;"></div>
<div style="position:absolute;left:1381px;top:1017px;width:71px;height:513px;background:#fff;"></div>
<div style="position:absolute;left:1458px;top:1017px;width:71px;height:513px;background:#fff;"></div>
<div style="position:absolute;left:1535px;top:1017px;width:71px;height:513px;background:#fff;"></div>
<div style="position:absolute;left:1612px;top:1017px;width:71px;height:513px;background:#fff;"></div>
<div style="position:absolute;left:1689px;top:1017px;width:71px;height:513px;background:#fff;"></div>
<div style="position:absolute;left:1766px;top:1017px;width:71px;height:513px;background:#fff;"></div>
<div style="position:absolute;left:1843px;top:1017px;width:71px;height:513px;background:#fff;"></div>
<div style="position:absolute;left:1920px;top:1017px;width:71px;height:513px;background:#fff;"></div>
<div style="position:absolute;left:1997px;top:1017px;width:71px;height:513px;background:#fff;"></div>
<div style="position:absolute;left:2074px;top:1017px;width:71px;height:513px;background:#fff;"></div>
<div style="position:absolute;left:68px;top:954px;width:2px;height:30px;background:#d9432b;"></div>
<div style="position:absolute;left:145px;top:954px;width:2px;height:30px;background:#d9432b;"></div>
<div style="position:absolute;left:222px;top:954px;width:2px;height:30px;background:#d9432b;"></div>
<div style="position:absolute;left:299px;top:954px;width:2px;height:30px;background:#d9432b;"></div>
<div style="position:absolute;left:376px;top:954px;width:2px;height:30px;background:#d9432b;"></div>
<div style="position:absolute;left:453px;top:954px;width:2px;height:30px;background:#d9432b;"></div>
<div style="position:absolute;left:530px;top:954px;width:2px;height:30px;background:#d9432b;"></div>
<div style="position:absolute;left:607px;top:954px;width:2px;height:30px;background:#d9432b;"></div>
<div style="position:absolute;left:684px;top:954px;width:2px;height:30px;background:#d9432b;"></div>
<div style="position:absolute;left:761px;top:954px;width:2px;height:30px;background:#d9432b;"></div>
<div style="position:absolute;left:838px;top:954px;width:2px;height:30px;background:#d9432b;"></div>
<div style="position:absolute;left:915px;top:954px;width:2px;height:30px;background:#d9432b;"></div>
<div style="position:absolute;left:992px;top:954px;width:2px;height:30px;background:#d9432b;"></div>
<div style="position:absolute;left:1069px;top:954px;width:2px;height:30px;background:#d9432b;"></div>
<div style="position:absolute;left:1146px;top:954px;width:2px;height:30px;background:#d9432b;"></div>
<div style="position:absolute;left:1223px;top:954px;width:2px;height:30px;background:#d9432b;"></div>
<div style="position:absolute;left:1300px;top:954px;width:2px;height:30px;background:#d9432b;"></div>
<div style="position:absolute;left:1377px;top:954px;width:2px;height:30px;background:#d9432b;"></div>
<div style="position:absolute;left:1454px;top:954px;width:2px;height:30px;background:#d9432b;"></div>
<div style="position:absolute;left:1531px;top:954px;width:2px;height:30px;background:#d9432b;"></div>
<div style="position:absolute;left:1608px;top:954px;width:2px;height:30px;background:#d9432b;"></div>
<div style="position:absolute;left:1685px;top:954px;width:2px;height:30px;background:#d9432b;"></div>
<div style="position:absolute;left:1762px;top:954px;width:2px;height:30px;background:#d9432b;"></div>
<div style="position:absolute;left:1839px;top:954px;width:2px;height:30px;background:#d9432b;"></div>
<div style="position:absolute;left:1916px;top:954px;width:2px;height:30px;background:#d9432b;"></div>
<div style="position:absolute;left:1993px;top:954px;width:2px;height:30px;background:#d9432b;"></div>
<div style="position:absolute;left:2070px;top:954px;width:2px;height:30px;background:#d9432b;"></div>
<div style="position:absolute;left:-353px;top:993px;width:67px;height:310px;background:#d9432b;"></div>
<div style="position:absolute;left:-268px;top:993px;width:67px;height:310px;background:#d9432b;"></div>
<div style="position:absolute;left:-124px;top:993px;width:67px;height:310px;background:#d9432b;"></div>
<div style="position:absolute;left:-41px;top:993px;width:67px;height:310px;background:#d9432b;"></div>
<div style="position:absolute;left:42px;top:993px;width:67px;height:310px;background:#d9432b;"></div>
<div style="position:absolute;left:186px;top:993px;width:67px;height:310px;background:#d9432b;"></div>
<div style="position:absolute;left:271px;top:993px;width:67px;height:310px;background:#d9432b;"></div>
<div style="position:absolute;left:415px;top:993px;width:67px;height:310px;background:#d9432b;"></div>
<div style="position:absolute;left:498px;top:993px;width:67px;height:310px;background:#d9432b;"></div>
<div style="position:absolute;left:581px;top:993px;width:67px;height:310px;background:#d9432b;"></div>
<div style="position:absolute;left:725px;top:993px;width:67px;height:310px;background:#d9432b;"></div>
<div style="position:absolute;left:810px;top:993px;width:67px;height:310px;background:#d9432b;"></div>
<div style="position:absolute;left:954px;top:993px;width:67px;height:310px;background:#d9432b;"></div>
<div style="position:absolute;left:1037px;top:993px;width:67px;height:310px;background:#d9432b;"></div>
<div style="position:absolute;left:1120px;top:993px;width:67px;height:310px;background:#d9432b;"></div>
<div style="position:absolute;left:1264px;top:993px;width:67px;height:310px;background:#d9432b;"></div>
<div style="position:absolute;left:1349px;top:993px;width:67px;height:310px;background:#d9432b;"></div>
<div style="position:absolute;left:1493px;top:993px;width:67px;height:310px;background:#d9432b;"></div>
<div style="position:absolute;left:1576px;top:993px;width:67px;height:310px;background:#d9432b;"></div>
<div style="position:absolute;left:1659px;top:993px;width:67px;height:310px;background:#d9432b;"></div>
<div style="position:absolute;left:1803px;top:993px;width:67px;height:310px;background:#d9432b;"></div>
<div style="position:absolute;left:1888px;top:993px;width:67px;height:310px;background:#d9432b;"></div>
<div style="position:absolute;left:2032px;top:993px;width:67px;height:310px;background:#d9432b;"></div>
<div style="position:absolute;left:2115px;top:993px;width:67px;height:310px;background:#d9432b;"></div>
<div style="position:absolute;left:2198px;top:993px;width:67px;height:310px;background:#d9432b;"></div>
<div style="position:absolute;left:-115.5px;top:1482.8px;width:600px;height:0;text-align:center;font-size:35px;color:#000;font-weight:bold;"><span style="position:relative;top:-31.68px;line-height:1;white-space:nowrap">C3</span></div>
<div style="position:absolute;left:423.5px;top:1482.8px;width:600px;height:0;text-align:center;font-size:35px;color:#000;font-weight:bold;"><span style="position:relative;top:-31.68px;line-height:1;white-space:nowrap">C4</span></div>
<div style="position:absolute;left:962.5px;top:1482.8px;width:600px;height:0;text-align:center;font-size:35px;color:#000;font-weight:bold;"><span style="position:relative;top:-31.68px;line-height:1;white-space:nowrap">C5</span></div>
<div style="position:absolute;left:1501.5px;top:1482.8px;width:600px;height:0;text-align:center;font-size:35px;color:#000;font-weight:bold;"><span style="position:relative;top:-31.68px;line-height:1;white-space:nowrap">C6</span></div>
<div style="position:absolute;left:12.7px;top:27.7px;height:0;font-size:24px;color:#000;font-weight:normal;white-space:nowrap;letter-spacing:1.3px;-webkit-text-stroke:0.4px #000;"><span style="position:relative;top:-21.72px;line-height:1">14:44</span></div>
<div style="position:absolute;left:99.7px;top:27.7px;height:0;font-size:24px;color:#000;font-weight:normal;white-space:nowrap;letter-spacing:-0.2px;-webkit-text-stroke:0.4px #000;"><span style="position:relative;top:-21.72px;line-height:1">10月17日<span style="margin-left:2.5px">(月)</span></span></div>
<div style="position:absolute;left:1927.5px;top:28px;height:0;font-size:24px;color:#000;font-weight:normal;white-space:nowrap;letter-spacing:1.2px;-webkit-text-stroke:0.4px #000;"><span style="position:relative;top:-21.72px;line-height:1">39%</span></div>
<svg style="position:absolute;left:0;top:0" width="2048" height="40" viewBox="0 0 2048 40"><path d="M1862.5,20.5 L1877,11.5 L1870.5,27 L1869,21.5 Z" fill="none" stroke="#000" stroke-width="2.6" stroke-linejoin="round"/><path d="M1891.35,15.93 A19.2,19.2 0 0 1 1917.05,15.93 L1914.50,18.76 A15.4,15.4 0 0 0 1893.90,18.76 Z M1896.17,21.28 A12.0,12.0 0 0 1 1912.23,21.28 L1910.22,23.51 A9.0,9.0 0 0 0 1898.18,23.51 Z M1904.2,29.599999999999998 L1900.59,26.19 A5.4,5.4 0 0 1 1907.81,26.19 Z" fill="#000" stroke="#000" stroke-width="1.2" stroke-linejoin="round"/><rect x="1986.5" y="9.5" width="45" height="21" rx="5" fill="none" stroke="#888" stroke-width="2"/><rect x="1989" y="12" width="16" height="16" rx="3" fill="#000"/><path d="M2035,16 Q2038.5,17 2038.5,20 Q2038.5,23 2035,24 Z" fill="#888"/></svg>
<div style="position:absolute;left:723px;top:44px;width:603px;height:78px;background:#f9c3bc;"></div>
<div style="position:absolute;left:737px;top:54px;width:114px;height:58px;background:#fff;"></div>
<div style="position:absolute;left:494.0px;top:92.7px;width:600px;height:0;text-align:center;text-indent:0.5px;font-size:28px;color:#000;font-weight:normal;letter-spacing:0.5px;"><span style="position:relative;top:-25.34px;line-height:1;white-space:nowrap">Presets</span></div>
<div style="position:absolute;left:867px;top:54px;width:90px;height:58px;background:#fff;"></div>
<div style="position:absolute;left:612.0px;top:92.7px;width:600px;height:0;text-align:center;text-indent:0.5px;font-size:28px;color:#000;font-weight:normal;letter-spacing:0.5px;"><span style="position:relative;top:-25.34px;line-height:1;white-space:nowrap">Reset</span></div>
<div style="position:absolute;left:973px;top:54px;width:98px;height:58px;background:#fff;"></div>
<div style="position:absolute;left:722.0px;top:92.7px;width:600px;height:0;text-align:center;text-indent:0.5px;font-size:28px;color:#000;font-weight:normal;letter-spacing:0.5px;"><span style="position:relative;top:-25.34px;line-height:1;white-space:nowrap">Param</span></div>
<div style="position:absolute;left:1087px;top:54px;width:76px;height:58px;background:#fff;"></div>
<div style="position:absolute;left:825.0px;top:92.7px;width:600px;height:0;text-align:center;text-indent:0.5px;font-size:28px;color:#000;font-weight:normal;letter-spacing:0.5px;"><span style="position:relative;top:-25.34px;line-height:1;white-space:nowrap">MIDI</span></div>
<div style="position:absolute;left:1179px;top:54px;width:58px;height:58px;background:#fff;"></div>
<div style="position:absolute;left:1253px;top:54px;width:58px;height:58px;background:#fff;"></div>
<svg style="position:absolute;left:0;top:0" width="2048" height="130" viewBox="0 0 2048 130"><path d="M1208.83,68.02 L1210.65,63.18 L1212.22,63.45 L1212.28,68.63 Z" fill="#000"/><path d="M1213.83,69.20 L1217.20,65.27 L1218.58,66.06 L1216.87,70.95 Z" fill="#000"/><path d="M1218.13,72.01 L1222.64,69.47 L1223.67,70.69 L1220.38,74.70 Z" fill="#000"/><path d="M1221.21,76.13 L1226.32,75.29 L1226.86,76.78 L1222.41,79.42 Z" fill="#000"/><path d="M1222.70,81.05 L1227.78,82.01 L1227.78,83.59 L1222.70,84.55 Z" fill="#000"/><path d="M1222.41,86.18 L1226.86,88.82 L1226.32,90.31 L1221.21,89.47 Z" fill="#000"/><path d="M1220.38,90.90 L1223.67,94.91 L1222.64,96.13 L1218.13,93.59 Z" fill="#000"/><path d="M1216.87,94.65 L1218.58,99.54 L1217.20,100.33 L1213.83,96.40 Z" fill="#000"/><path d="M1212.28,96.97 L1212.22,102.15 L1210.65,102.42 L1208.83,97.58 Z" fill="#000"/><path d="M1207.17,97.58 L1205.35,102.42 L1203.78,102.15 L1203.72,96.97 Z" fill="#000"/><path d="M1202.17,96.40 L1198.80,100.33 L1197.42,99.54 L1199.13,94.65 Z" fill="#000"/><path d="M1197.87,93.59 L1193.36,96.13 L1192.33,94.91 L1195.62,90.90 Z" fill="#000"/><path d="M1194.79,89.47 L1189.68,90.31 L1189.14,88.82 L1193.59,86.18 Z" fill="#000"/><path d="M1193.30,84.55 L1188.22,83.59 L1188.22,82.01 L1193.30,81.05 Z" fill="#000"/><path d="M1193.59,79.42 L1189.14,76.78 L1189.68,75.29 L1194.79,76.13 Z" fill="#000"/><path d="M1195.62,74.70 L1192.33,70.69 L1193.36,69.47 L1197.87,72.01 Z" fill="#000"/><path d="M1199.13,70.95 L1197.42,66.06 L1198.80,65.27 L1202.17,69.20 Z" fill="#000"/><path d="M1203.72,68.63 L1203.78,63.45 L1205.35,63.18 L1207.17,68.02 Z" fill="#000"/><circle cx="1208" cy="82.8" r="14.9" fill="none" stroke="#000" stroke-width="2.5"/><circle cx="1208" cy="82.8" r="3.2" fill="none" stroke="#000" stroke-width="2.1"/><line x1="1212.20" y1="82.80" x2="1222.00" y2="82.80" stroke="#000" stroke-width="1.8"/><line x1="1205.90" y1="86.44" x2="1201.00" y2="94.92" stroke="#000" stroke-width="1.8"/><line x1="1205.90" y1="79.16" x2="1201.00" y2="70.68" stroke="#000" stroke-width="1.8"/><path d="M1275.2,69.4 L1294,64.8 L1294,70 L1277,74.4 Z" fill="#000"/><rect x="1275.2" y="69.5" width="2" height="26" fill="#000"/><rect x="1292" y="65" width="2" height="26" fill="#000"/><ellipse cx="1271.6" cy="96.3" rx="6.3" ry="3.7" transform="rotate(-34 1271.6 96.3)" fill="#000"/><ellipse cx="1288.5" cy="92.5" rx="6.3" ry="3.7" transform="rotate(-34 1288.5 92.5)" fill="#000"/></svg>
</div>
<div style="position:absolute;left:0;top:0;width:2048px;height:1536px;overflow:hidden;mix-blend-mode:plus-lighter"><div style="position:absolute;left:90px;top:164px;width:330px;height:1282px;background:linear-gradient(to left, rgba(255,255,255,0.1050) 0px, rgba(255,255,255,0.0980) 10px, rgba(255,255,255,0.0900) 20px, rgba(255,255,255,0.0640) 58px, rgba(255,255,255,0.0430) 100px, rgba(255,255,255,0.0250) 150px, rgba(255,255,255,0.0130) 194px, rgba(255,255,255,0.0040) 260px, rgba(255,255,255,0.0000) 320px, rgba(255,255,255,0.0000) 330px);"></div><div style="position:absolute;left:1170px;top:164px;width:330px;height:1282px;background:linear-gradient(to right, rgba(255,255,255,0.1050) 0px, rgba(255,255,255,0.0980) 10px, rgba(255,255,255,0.0900) 20px, rgba(255,255,255,0.0640) 58px, rgba(255,255,255,0.0430) 100px, rgba(255,255,255,0.0250) 150px, rgba(255,255,255,0.0130) 194px, rgba(255,255,255,0.0040) 260px, rgba(255,255,255,0.0000) 320px, rgba(255,255,255,0.0000) 330px);"></div><div style="position:absolute;left:446px;top:-192px;width:698px;height:330px;background:linear-gradient(to top, rgba(255,255,255,0.1050) 0px, rgba(255,255,255,0.0980) 10px, rgba(255,255,255,0.0900) 20px, rgba(255,255,255,0.0640) 58px, rgba(255,255,255,0.0430) 100px, rgba(255,255,255,0.0250) 150px, rgba(255,255,255,0.0130) 194px, rgba(255,255,255,0.0040) 260px, rgba(255,255,255,0.0000) 320px, rgba(255,255,255,0.0000) 330px);"></div><div style="position:absolute;left:446px;top:1472px;width:698px;height:330px;background:linear-gradient(to bottom, rgba(255,255,255,0.1050) 0px, rgba(255,255,255,0.0980) 10px, rgba(255,255,255,0.0900) 20px, rgba(255,255,255,0.0640) 58px, rgba(255,255,255,0.0430) 100px, rgba(255,255,255,0.0250) 150px, rgba(255,255,255,0.0130) 194px, rgba(255,255,255,0.0040) 260px, rgba(255,255,255,0.0000) 320px, rgba(255,255,255,0.0000) 330px);"></div><div style="position:absolute;left:90px;top:-192px;width:356px;height:356px;background:radial-gradient(circle 356px at 100% 100%, transparent 25.5px, rgba(255,255,255,0.1050) 26px, rgba(255,255,255,0.0980) 36px, rgba(255,255,255,0.0900) 46px, rgba(255,255,255,0.0640) 84px, rgba(255,255,255,0.0430) 126px, rgba(255,255,255,0.0250) 176px, rgba(255,255,255,0.0130) 220px, rgba(255,255,255,0.0040) 286px, rgba(255,255,255,0.0000) 346px, rgba(255,255,255,0.0000) 356px);"></div><div style="position:absolute;left:1144px;top:-192px;width:356px;height:356px;background:radial-gradient(circle 356px at 0% 100%, transparent 25.5px, rgba(255,255,255,0.1050) 26px, rgba(255,255,255,0.0980) 36px, rgba(255,255,255,0.0900) 46px, rgba(255,255,255,0.0640) 84px, rgba(255,255,255,0.0430) 126px, rgba(255,255,255,0.0250) 176px, rgba(255,255,255,0.0130) 220px, rgba(255,255,255,0.0040) 286px, rgba(255,255,255,0.0000) 346px, rgba(255,255,255,0.0000) 356px);"></div><div style="position:absolute;left:90px;top:1446px;width:356px;height:356px;background:radial-gradient(circle 356px at 100% 0%, transparent 25.5px, rgba(255,255,255,0.1050) 26px, rgba(255,255,255,0.0980) 36px, rgba(255,255,255,0.0900) 46px, rgba(255,255,255,0.0640) 84px, rgba(255,255,255,0.0430) 126px, rgba(255,255,255,0.0250) 176px, rgba(255,255,255,0.0130) 220px, rgba(255,255,255,0.0040) 286px, rgba(255,255,255,0.0000) 346px, rgba(255,255,255,0.0000) 356px);"></div><div style="position:absolute;left:1144px;top:1446px;width:356px;height:356px;background:radial-gradient(circle 356px at 0% 0%, transparent 25.5px, rgba(255,255,255,0.1050) 26px, rgba(255,255,255,0.0980) 36px, rgba(255,255,255,0.0900) 46px, rgba(255,255,255,0.0640) 84px, rgba(255,255,255,0.0430) 126px, rgba(255,255,255,0.0250) 176px, rgba(255,255,255,0.0130) 220px, rgba(255,255,255,0.0040) 286px, rgba(255,255,255,0.0000) 346px, rgba(255,255,255,0.0000) 356px);"></div></div>
</div>
<div style="position:absolute;left:420px;top:138px;width:750px;height:1334px;border-radius:26px;background:#fff;overflow:hidden;">
<div style="position:absolute;left:0;top:0;width:750px;height:100px;background:#f7f7f7;"></div>
<div style="position:absolute;left:0;top:100px;width:750px;height:1px;background:#b4b4b4;"></div>
<div style="position:absolute;left:126px;top:100px;width:624px;height:1px;background:#8e8e8e;"></div>
</div>
<svg style="position:absolute;left:760px;top:108px" width="70" height="32" viewBox="760 108 70 32"><path d="M765,138.6 Q768.5,138.4 770.8,136 L793.2,113.4 Q795,111.6 796.8,113.4 L819.2,136 Q821.5,138.4 825,138.6 Z" fill="#f7f7f7"/></svg>
<div style="position:absolute;left:494.79999999999995px;top:200.3px;width:600px;height:0;text-align:center;text-indent:-0.4px;font-size:35.5px;color:#000;font-weight:bold;letter-spacing:-0.4px;"><span style="position:relative;top:-32.13px;line-height:1;white-space:nowrap">Preset</span></div>
<div style="position:absolute;left:983px;top:199px;height:0;font-size:31px;color:#007aff;font-weight:normal;white-space:nowrap;font-weight:normal;"><span style="position:relative;top:-28.05px;line-height:1">保存</span></div>
<div style="position:absolute;left:1084px;top:159px;width:60px;height:60px;border-radius:30px;background:#e4e4e6;"></div>
<svg style="position:absolute;left:1084px;top:159px" width="60" height="60" viewBox="0 0 60 60"><path d="M20.5,20.5 L39.5,39.5 M39.5,20.5 L20.5,39.5" stroke="#848488" stroke-width="5" stroke-linecap="round"/></svg>
<div style="position:absolute;left:545.5px;top:295px;height:0;font-size:33px;color:#000;font-weight:normal;white-space:nowrap;letter-spacing:0.9px;"><span style="position:relative;top:-29.87px;line-height:1">Factory</span></div>
<div style="position:absolute;left:546px;top:327px;width:624px;height:1px;background:#c8c8cc;"></div>
<div style="position:absolute;left:545.5px;top:385px;height:0;font-size:33px;color:#000;font-weight:normal;white-space:nowrap;letter-spacing:0.9px;"><span style="position:relative;top:-29.87px;line-height:1">State</span></div>
<div style="position:absolute;left:546px;top:417px;width:624px;height:1px;background:#c8c8cc;"></div>
<div style="position:absolute;left:545.5px;top:475px;height:0;font-size:33px;color:#000;font-weight:normal;white-space:nowrap;letter-spacing:0.9px;"><span style="position:relative;top:-29.87px;line-height:1">State 2</span></div>
<div style="position:absolute;left:546px;top:507px;width:624px;height:1px;background:#c8c8cc;"></div>
<div style="position:absolute;left:545.5px;top:565px;height:0;font-size:33px;color:#000;font-weight:normal;white-space:nowrap;letter-spacing:0.9px;"><span style="position:relative;top:-29.87px;line-height:1">State 3</span></div>
<div style="position:absolute;left:546px;top:597px;width:624px;height:1px;background:#c8c8cc;"></div>
<svg style="position:absolute;left:0;top:0" width="2048" height="700" viewBox="0 0 2048 700"><path transform="translate(0,0)" d="M461,276.3 V297 Q461,301 465,301 H503 Q507,301 507,297 V272.5 Q507,268 502.5,268 H480 Q478.5,268 477,266.8 L474.5,265 Q473,264 471,264 H465.5 Q461,264 461,268.5 Z M461,276.3 H507" fill="none" stroke="#000" stroke-width="3.5" stroke-linejoin="round"/><path transform="translate(0,0)" d="M471.7,351 H484.5 Q486.2,351 487.6,352.4 L499.1,364.2 Q500.5,365.6 500.5,367.8 V389.5 Q500.5,393.7 496.3,393.7 H471.7 Q467.5,393.7 467.5,389.5 V355.2 Q467.5,351 471.7,351 Z M484,351.5 V364.3 Q484,367.6 487.3,367.6 H500" fill="none" stroke="#000" stroke-width="3.5" stroke-linejoin="round"/><path transform="translate(0,90)" d="M471.7,351 H484.5 Q486.2,351 487.6,352.4 L499.1,364.2 Q500.5,365.6 500.5,367.8 V389.5 Q500.5,393.7 496.3,393.7 H471.7 Q467.5,393.7 467.5,389.5 V355.2 Q467.5,351 471.7,351 Z M484,351.5 V364.3 Q484,367.6 487.3,367.6 H500" fill="none" stroke="#000" stroke-width="3.5" stroke-linejoin="round"/><path transform="translate(0,180)" d="M471.7,351 H484.5 Q486.2,351 487.6,352.4 L499.1,364.2 Q500.5,365.6 500.5,367.8 V389.5 Q500.5,393.7 496.3,393.7 H471.7 Q467.5,393.7 467.5,389.5 V355.2 Q467.5,351 471.7,351 Z M484,351.5 V364.3 Q484,367.6 487.3,367.6 H500" fill="none" stroke="#000" stroke-width="3.5" stroke-linejoin="round"/></svg>
<div style="position:absolute;left:452.5px;top:1433px;height:0;font-size:31px;color:#007aff;font-weight:normal;white-space:nowrap;"><span style="position:relative;top:-28.05px;line-height:1">編集</span></div>
<svg style="position:absolute;left:1070px;top:1390px" width="80" height="60" viewBox="1070 1390 80 60"><path d="M1113.5,1406.4 H1099.5 Q1097.8,1406.4 1096.3,1405.2 L1094,1403.3 Q1092.6,1402.3 1090.5,1402.3 H1085 Q1080.9,1402.3 1080.9,1406.4 V1435 Q1080.9,1439.1 1085,1439.1 H1123 Q1127.1,1439.1 1127.1,1435 V1425 M1080.9,1414.6 H1113" fill="none" stroke="#007aff" stroke-width="3.4" stroke-linejoin="round"/><circle cx="1126.8" cy="1411.1" r="11.1" fill="#007aff"/><path d="M1120.5,1411.1 H1133.1 M1126.8,1404.8 V1417.4" stroke="#fff" stroke-width="2.8" stroke-linecap="round"/></svg>
</body></html>
